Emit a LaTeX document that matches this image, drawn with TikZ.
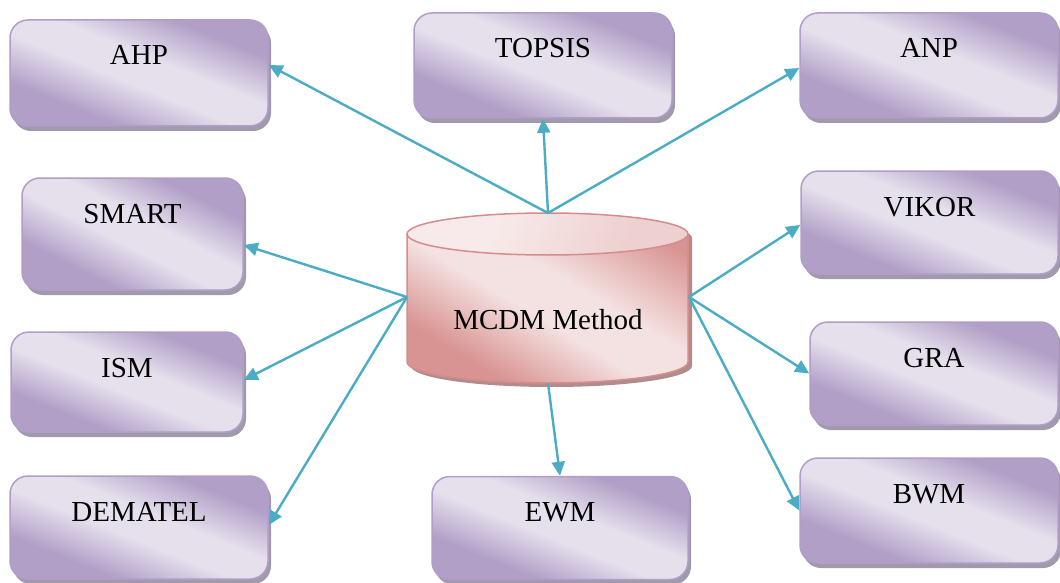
\documentclass[tikz,border=0pt]{standalone}
\usepackage{fontspec}
\setmainfont{Liberation Serif}
\usetikzlibrary{arrows.meta,shadows}
\definecolor{pdk}{RGB}{177,159,199}
\definecolor{plt}{RGB}{230,224,237}
\definecolor{pbd}{RGB}{176,158,201}
\definecolor{psh}{RGB}{160,154,170}
\definecolor{rdk}{RGB}{216,148,146}
\definecolor{rlt}{RGB}{244,225,225}
\definecolor{rbd}{RGB}{214,140,138}
\definecolor{rsh}{RGB}{176,140,140}
\definecolor{rtopa}{RGB}{248,234,234}
\definecolor{rtopb}{RGB}{238,208,208}
\definecolor{arr}{RGB}{75,172,198}
\pgfdeclarehorizontalshading{purpsh}{100bp}{color(0bp)=(pdk); color(31bp)=(pdk); color(46bp)=(plt); color(56bp)=(plt); color(71bp)=(pdk); color(100bp)=(pdk)}
\pgfdeclarehorizontalshading{pinksh}{100bp}{color(0bp)=(rdk); color(28bp)=(rdk); color(45bp)=(rlt); color(56bp)=(rlt); color(76bp)=(rdk); color(100bp)=(rdk)}
\pgfdeclarehorizontalshading{topsh}{100bp}{color(0bp)=(rtopa); color(38bp)=(rtopa); color(68bp)=(rtopb); color(100bp)=(rtopb)}
\begin{document}
\begin{tikzpicture}[x=1pt,y=-1pt,
  mbox/.style={rectangle, rounded corners=18pt, draw=pbd, line width=1.5pt,
    shade, shading=purpsh, shading angle=68, inner sep=0pt, minimum height=0pt,
    text height=45pt, font=\fontsize{29}{34}\selectfont,
    drop shadow={shadow xshift=3pt, shadow yshift=-5pt, fill=psh, opacity=1}},
  conn/.style={draw=arr, line width=2.4pt, -{Triangle[length=14pt,width=13pt]}},
  cylline/.style={draw=rbd, line width=1.5pt}]
\useasboundingbox (0,0) rectangle (1060,583);
\fill[white] (0,0) rectangle (1060,583);

% boxes
\node[mbox, minimum width=258pt, text depth=61pt] (ahp) at (139,73) {AHP};
\node[mbox, minimum width=258pt, text depth=60pt] (topsis) at (543,65.5) {TOPSIS};
\node[mbox, minimum width=258pt, text depth=60pt] (anp) at (929,65.5) {ANP};
\node[mbox, minimum width=221pt, text depth=67pt, shading angle=63] (smart) at (132.5,234) {SMART};
\node[mbox, minimum width=257pt, text depth=58pt] (vikor) at (929.5,222.5) {VIKOR};
\node[mbox, minimum width=232pt, text depth=55pt] (ism) at (127,382) {ISM};
\node[mbox, minimum width=248pt, text depth=58pt] (gra) at (934,373.5) {GRA};
\node[mbox, minimum width=258pt, text depth=58pt] (dematel) at (139,527.5) {DEMATEL};
\node[mbox, minimum width=256pt, text depth=58pt] (ewm) at (560,528) {EWM};
\node[mbox, minimum width=258pt, text depth=60pt] (bwm) at (929,510.5) {BWM};

% cylinder
\fill[rsh] (411,238) -- (411,366) arc[start angle=180, end angle=360, x radius=140.5pt, y radius=21pt] -- (692,238) arc[start angle=0, end angle=180, x radius=140.5pt, y radius=21pt] -- cycle;
\shade[shading=pinksh, shading angle=59] (407,234) -- (407,362) arc[start angle=180, end angle=360, x radius=140.5pt, y radius=21pt] -- (688,234) arc[start angle=0, end angle=180, x radius=140.5pt, y radius=21pt] -- cycle;
\draw[cylline] (407,234) -- (407,362) arc[start angle=180, end angle=360, x radius=140.5pt, y radius=21pt] -- (688,234);
\shade[shading=topsh, shading angle=-20] (547.5,234) ellipse[x radius=140.5pt, y radius=21pt];
\draw[cylline] (547.5,234) ellipse[x radius=140.5pt, y radius=21pt];
\node[font=\fontsize{29}{34}\selectfont, anchor=base, inner sep=0pt] (mcdm) at (548,329) {MCDM Method};

\coordinate (ctop) at (548,213);
\coordinate (cleft) at (407,297);
\coordinate (cright) at (689,297);
\coordinate (cbot) at (548,383);

% connectors
\draw[conn] (ctop) -- ([yshift=8pt]ahp.east);
\draw[conn] (ctop) -- (topsis.south);
\draw[conn] (ctop) -- ([yshift=-2.5pt]anp.west);
\draw[conn] (cleft) -- ([yshift=-11pt]smart.east);
\draw[conn] (cleft) -- ([yshift=2pt]ism.east);
\draw[conn] (cleft) -- ([yshift=2.5pt]dematel.east);
\draw[conn] (cright) -- ([yshift=-2.5pt]vikor.west);
\draw[conn] (cright) -- (gra.west);
\draw[conn] (cright) -- (bwm.west);
\draw[conn] (cbot) -- (ewm.north);
\end{tikzpicture}
\end{document}
